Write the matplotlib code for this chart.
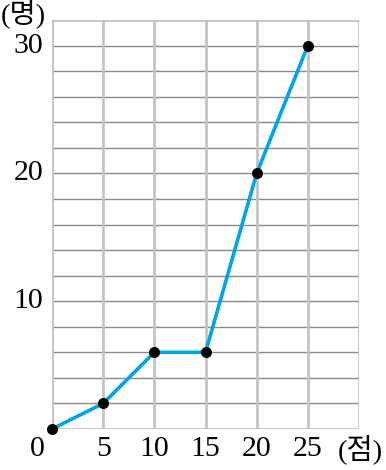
import numpy as np
import matplotlib.pyplot as plt

# 점수별 누적 인원
scores = [0, 5, 10, 15, 20, 25]
people = [0, 2, 6, 6, 20, 30]
x_ticks = [5, 10, 15, 20, 25]
y_ticks = [10, 20, 30]

fig = plt.figure(figsize=(3.86, 4.70), dpi=100)
ax = fig.add_axes([52/386, 41/470, 307/386, 409/470])

ax.set_xlim(0, 30)
ax.set_ylim(0, 32)

# 격자 (안쪽 가로선은 진하게, 테두리와 세로선은 연하게)
for yv in range(2, 32, 2):
	ax.axhline(yv, color='#8a8a8a', lw=1.0, zorder=1)
for yv in [0, 32]:
	ax.axhline(yv, color='#c4c4c4', lw=2.0, zorder=2)
for xv in range(0, 31, 5):
	ax.axvline(xv, color='#c4c4c4', lw=2.0, zorder=2)

ax.plot(scores, people, color='#00a5e8', lw=2.6, zorder=3, clip_on=False)
ax.scatter(scores, people, s=48, color='black', zorder=4, clip_on=False)

for s in ax.spines.values():
	s.set_visible(False)
ax.set_xticks([])
ax.set_yticks([])

num_font = {'family': 'Liberation Serif', 'size': 21.5}
for xv in x_ticks:
	ax.text(xv, -1.6, str(xv), ha='center', va='center', fontdict=num_font)
ax.text(-1.45, -1.6, '0', ha='center', va='center', fontdict=num_font)
for yv in y_ticks:
	ax.text(-0.85, yv, str(yv), ha='right', va='center', fontdict=num_font)

kr = ['Liberation Serif', 'Noto Sans CJK KR']
ax.text(27.9, -1.6, '(점)', ha='left', va='center', family=kr, size=20.5)
ax.text(-2.8, 32.45, '(명)', ha='center', va='center', family=kr, size=20.5)

fig.savefig('out.png', dpi=100)
